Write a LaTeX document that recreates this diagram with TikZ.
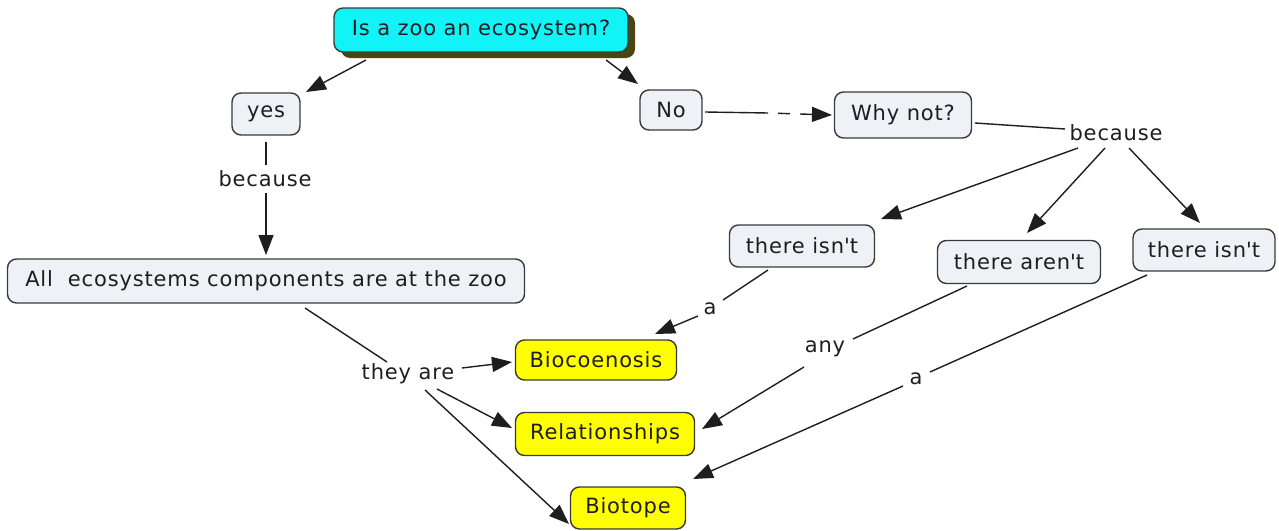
\documentclass[tikz,border=0pt]{standalone}
\usepackage{fontspec}
\setmainfont{DejaVu Sans}[LetterSpace=4]
\usetikzlibrary{arrows.meta,calc,shadows}
\definecolor{boxfill}{HTML}{EEF1F6}
\definecolor{boxdraw}{HTML}{3A3A3A}
\definecolor{txt}{HTML}{1E1E1E}
\definecolor{qfill}{HTML}{10F4F8}
\definecolor{yfill}{HTML}{FFFF00}
\definecolor{shadowol}{HTML}{4A4512}
\begin{document}
\begin{tikzpicture}[x=1pt,y=-1pt,
  concept/.style={draw=boxdraw, line width=1.4pt, rounded corners=9pt, fill=boxfill,
    font=\fontsize{21}{24}\selectfont, text=txt, inner sep=0pt},
  yellowbox/.style={concept, fill=yfill},
  linklabel/.style={font=\fontsize{21}{24}\selectfont, text=txt, inner sep=0pt},
  ln/.style={line width=1.4pt, draw=txt},
  arr/.style={ln, -{Triangle[length=20pt,width=15pt]}}]
\useasboundingbox (0,0) rectangle (1279,530);
% concepts
\node[concept, fill=qfill, minimum width=294pt, minimum height=44pt,
  drop shadow={shadow xshift=7pt, shadow yshift=-6pt, fill=shadowol, opacity=1}]
  (q) at (481,30) {Is a zoo an ecosystem?};
\node[concept, minimum width=68pt, minimum height=42pt] (yes) at (266,114) {yes};
\node[concept, minimum width=62pt, minimum height=40pt] (no) at (671,110) {No};
\node[concept, minimum width=137pt, minimum height=46pt] (why) at (903,115) {Why not?};
\node[concept, minimum width=145pt, minimum height=42pt] (isnt1) at (802,246) {there isn\textquotesingle t};
\node[concept, minimum width=163pt, minimum height=43pt] (arent) at (1019,262) {there aren\textquotesingle t};
\node[concept, minimum width=142pt, minimum height=42pt] (isnt2) at (1204,250) {there isn\textquotesingle t};
\node[concept, minimum width=517pt, minimum height=44pt] (all) at (266,281) {All\ \ ecosystems components are at the zoo};
\node[yellowbox, minimum width=161pt, minimum height=40pt] (bio) at (596,360) {Biocoenosis};
\node[yellowbox, minimum width=179pt, minimum height=43pt] (rel) at (605,434) {Relationships};
\node[yellowbox, minimum width=115pt, minimum height=42pt] (bt) at (628,508) {Biotope};
% linking phrases
\node[linklabel] (bc1) at (265,179) {because};
\node[linklabel] (bc2) at (1116,133) {because};
\node[linklabel] (they) at (408,374) {they are};
\node[linklabel] (a1) at (710,309) {a};
\node[linklabel] (any) at (825,349) {any};
\node[linklabel] (a2) at (916,379) {a};
\coordinate (m1) at (768,113);
% connectors
\draw[arr] ($(q)+(-115,30)$) -- ($(yes)+(40,-22)$);
\draw[arr] ($(q)+(125,30)$) -- ($(no)+(-33,-26)$);
\draw[ln] ($(no)+(34,2)$) -- (m1);
\draw[arr, dash pattern=on 12pt off 10pt, dash phase=12pt] (m1) -- ($(why)+(-71,0)$);
\draw[ln] ($(why)+(72,8)$) -- ($(bc2)+(-51,-4)$);
\draw[arr] ($(bc2)+(-38,15)$) -- ($(isnt1)+(79,-27)$);
\draw[arr] ($(bc2)+(-11,15)$) -- ($(arent)+(8,-29)$);
\draw[arr] ($(bc2)+(13,15)$) -- ($(isnt2)+(-4,-27)$);
\draw[ln] ($(yes)+(0,28)$) -- ($(bc1)+(1,-14)$);
\draw[arr] ($(bc1)+(1,14)$) -- ($(all)+(0,-26)$);
\draw[ln] ($(all)+(39,27)$) -- ($(they)+(-21,-12)$);
\draw[arr] ($(they)+(54,-6)$) -- ($(bio)+(-84,2)$);
\draw[arr] ($(they)+(29,15)$) -- ($(rel)+(-93,-6)$);
\draw[arr] ($(they)+(17,16)$) -- ($(bt)+(-59,16)$);
\draw[ln] ($(isnt1)+(-34,24)$) -- ($(a1)+(13,-9)$);
\draw[arr] ($(a1)+(-12,7)$) -- ($(bio)+(59,-26)$);
\draw[ln] ($(arent)+(-52,24)$) -- ($(any)+(28,-10)$);
\draw[arr] ($(any)+(-21,18)$) -- ($(rel)+(97,-5)$);
\draw[ln] ($(isnt2)+(-57,25)$) -- ($(a2)+(14,-7)$);
\draw[arr] ($(a2)+(-13,7)$) -- ($(bt)+(65,-29)$);
\end{tikzpicture}
\end{document}
